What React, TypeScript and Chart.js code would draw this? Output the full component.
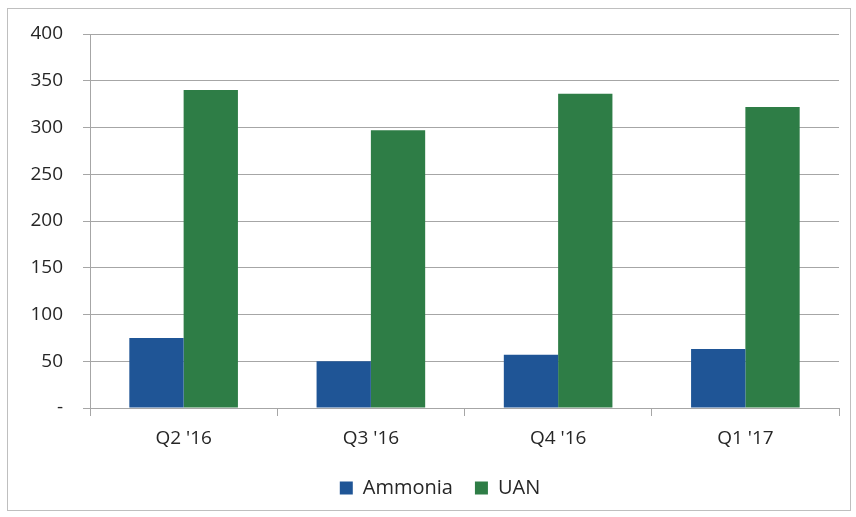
import React, { useEffect, useRef } from "react";
import { Chart, registerables } from "chart.js";

Chart.register(...registerables);

const categories = ["Q2 '16", "Q3 '16", "Q4 '16", "Q1 '17"];
const ammonia = [75, 50, 57, 63];
const uan = [340, 297, 336, 322];
const seriesNames = ["Ammonia", "UAN"];
const yTicks = [0, 50, 100, 150, 200, 250, 300, 350, 400];

const FONT = "'Open Sans', 'Liberation Sans', sans-serif";
const TEXT = "#262626";
const GRID = "#a6a6a6";

const framePlugin = {
  id: "frame",
  beforeDraw(chart: any) {
    const ctx = chart.ctx;
    ctx.save();
    ctx.fillStyle = "#fff";
    ctx.fillRect(0, 0, chart.width, chart.height);
    ctx.strokeStyle = "#bfbfbf";
    ctx.lineWidth = 1;
    ctx.strokeRect(7.5, 8.5, 843, 502);
    ctx.restore();
  },
  afterUpdate(chart: any) {
    const lg = chart.legend;
    if (lg) {
      lg.left += 16;
      lg.right += 16;
      lg.adjustHitBoxes();
    }
  },
};

export default function App() {
  const ref = useRef<HTMLCanvasElement | null>(null);

  useEffect(() => {
    if (!ref.current) return;
    const chart = new Chart(ref.current, {
      type: "bar",
      data: {
        labels: categories,
        datasets: [
          {
            label: seriesNames[0],
            data: ammonia,
            backgroundColor: "#1f5596",
            borderWidth: 0,
          },
          {
            label: seriesNames[1],
            data: uan,
            backgroundColor: "#2e7d46",
            borderWidth: 0,
          },
        ],
      },
      options: {
        animation: false,
        responsive: false,
        maintainAspectRatio: false,
        datasets: {
          bar: { categoryPercentage: 0.58, barPercentage: 1 },
        },
        layout: { padding: { left: 9, right: 17, top: 34, bottom: 9 } },
        plugins: {
          tooltip: { enabled: false },
          legend: {
            position: "bottom",
            labels: {
              boxWidth: 13,
              boxHeight: 13,
              padding: 22,
              color: TEXT,
              font: { family: FONT, size: 20 },
            },
          },
        },
        scales: {
          x: {
            grid: {
              display: true,
              drawOnChartArea: false,
              drawTicks: true,
              tickLength: 8,
              offset: true,
              color: GRID,
            },
            border: { display: true, color: GRID, width: 1 },
            ticks: {
              padding: 11,
              color: TEXT,
              font: { family: FONT, size: 19 },
            },
            afterFit: (scale: any) => {
              scale.height = 48;
            },
          },
          y: {
            min: 0,
            max: 400,
            afterBuildTicks: (scale: any) => {
              scale.ticks = yTicks.map((v) => ({ value: v }));
            },
            grid: {
              color: GRID,
              tickLength: 7,
              lineWidth: 1,
            },
            border: { display: true, color: GRID, width: 1 },
            ticks: {
              padding: 20,
              color: TEXT,
              font: { family: FONT, size: 19 },
              callback: (v: any) => (Number(v) === 0 ? "-" : String(v)),
            },
            afterFit: (scale: any) => {
              scale.width = 81;
            },
          },
        },
      },
      plugins: [framePlugin],
    });
    return () => chart.destroy();
  }, []);

  return (
    <div style={{ position: "absolute", left: 0, top: 0, width: 856, height: 517 }}>
      <canvas ref={ref} width={856} height={517} style={{ display: "block" }} />
    </div>
  );
}
